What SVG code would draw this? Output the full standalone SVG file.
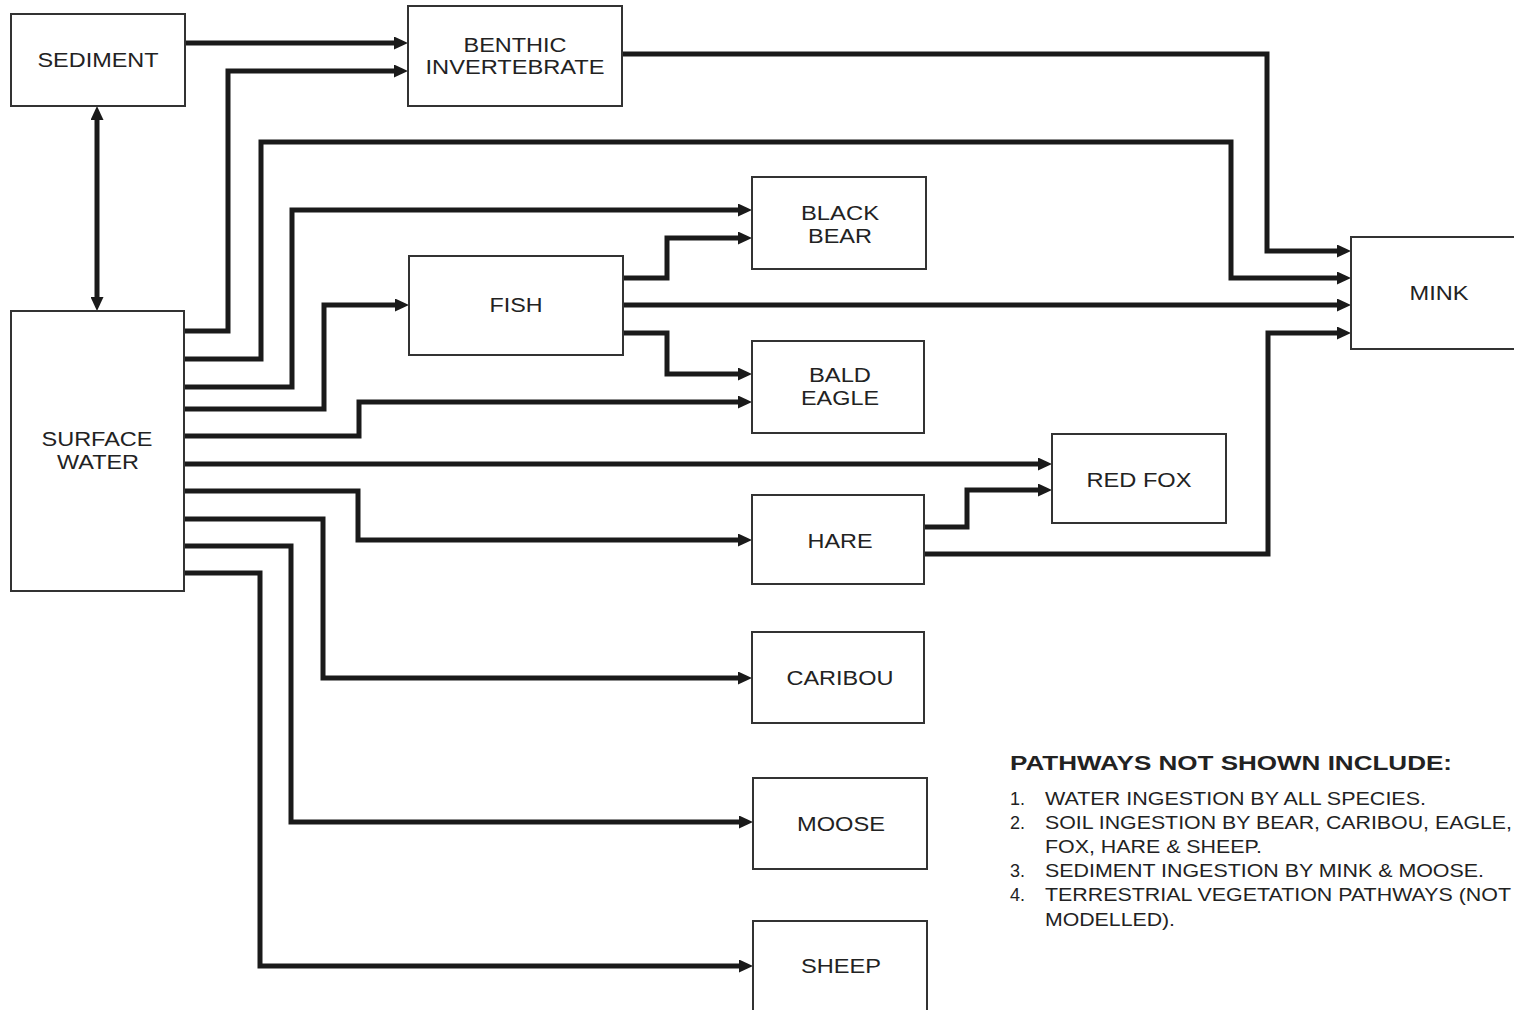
<svg xmlns="http://www.w3.org/2000/svg" width="1514" height="1010" viewBox="0 0 1514 1010">
<style>
.box{fill:#fff;stroke:#333;stroke-width:2}
.lbl{font-family:"Liberation Sans",Arial,sans-serif;font-size:20px;fill:#222;text-anchor:middle}
.con{fill:none;stroke:#1a1a1a;stroke-width:5;stroke-linejoin:miter}
.note{font-family:"Liberation Sans",Arial,sans-serif;font-size:18px;fill:#222}
.title{font-family:"Liberation Sans",Arial,sans-serif;font-size:21px;font-weight:bold;fill:#222}
</style>
<defs>
<marker id="ah" markerUnits="userSpaceOnUse" markerWidth="14" markerHeight="13" refX="1" refY="6.5" orient="auto-start-reverse">
<path d="M0,0 L14,6.5 L0,13 z" fill="#1a1a1a"/>
</marker>
</defs>
<rect width="1514" height="1010" fill="#fff"/>
<g id="connectors">
<path class="con" marker-end="url(#ah)" d="M185,43 H395"/>
<path class="con" marker-end="url(#ah)" d="M184,331 H228 V71 H395"/>
<path class="con" marker-end="url(#ah)" d="M184,359 H261 V142 H1231 V278 H1338"/>
<path class="con" marker-end="url(#ah)" d="M184,387 H292 V210 H739"/>
<path class="con" marker-end="url(#ah)" d="M184,409 H324 V305 H396"/>
<path class="con" marker-end="url(#ah)" d="M184,436 H359 V402 H739"/>
<path class="con" marker-end="url(#ah)" d="M184,464 H1039"/>
<path class="con" marker-end="url(#ah)" d="M184,491 H358 V540 H739"/>
<path class="con" marker-end="url(#ah)" d="M184,519 H323 V678 H739"/>
<path class="con" marker-end="url(#ah)" d="M184,546 H291 V822 H740"/>
<path class="con" marker-end="url(#ah)" d="M184,573 H260 V966 H740"/>
<path class="con" marker-end="url(#ah)" d="M622,54 H1267 V251 H1338"/>
<path class="con" marker-end="url(#ah)" d="M623,278 H667 V238 H739"/>
<path class="con" marker-end="url(#ah)" d="M623,305 H1338"/>
<path class="con" marker-end="url(#ah)" d="M623,333 H667 V374 H739"/>
<path class="con" marker-end="url(#ah)" d="M924,527 H967 V490 H1039"/>
<path class="con" marker-end="url(#ah)" d="M924,554 H1268 V333 H1338"/>
<path class="con" marker-start="url(#ah)" marker-end="url(#ah)" d="M97,119 V298"/>
</g>
<g id="sediment"><rect class="box" x="11" y="14" width="174" height="92"/><text class="lbl" x="98" y="67" textLength="121" lengthAdjust="spacingAndGlyphs">SEDIMENT</text></g>
<g id="benthic"><rect class="box" x="408" y="6" width="214" height="100"/><text class="lbl" x="515" y="52" textLength="103" lengthAdjust="spacingAndGlyphs">BENTHIC</text><text class="lbl" x="515" y="74" textLength="179" lengthAdjust="spacingAndGlyphs">INVERTEBRATE</text></g>
<g id="surface-water"><rect class="box" x="11" y="311" width="173" height="280"/><text class="lbl" x="97" y="446" textLength="111" lengthAdjust="spacingAndGlyphs">SURFACE</text><text class="lbl" x="98" y="469" textLength="82" lengthAdjust="spacingAndGlyphs">WATER</text></g>
<g id="fish"><rect class="box" x="409" y="256" width="214" height="99"/><text class="lbl" x="516" y="312" textLength="53" lengthAdjust="spacingAndGlyphs">FISH</text></g>
<g id="black-bear"><rect class="box" x="752" y="177" width="174" height="92"/><text class="lbl" x="840" y="220" textLength="78" lengthAdjust="spacingAndGlyphs">BLACK</text><text class="lbl" x="840" y="243" textLength="64" lengthAdjust="spacingAndGlyphs">BEAR</text></g>
<g id="bald-eagle"><rect class="box" x="752" y="341" width="172" height="92"/><text class="lbl" x="840" y="382" textLength="62" lengthAdjust="spacingAndGlyphs">BALD</text><text class="lbl" x="840" y="405" textLength="78" lengthAdjust="spacingAndGlyphs">EAGLE</text></g>
<g id="mink"><rect class="box" x="1351" y="237" width="170" height="112"/><text class="lbl" x="1439" y="300" textLength="59" lengthAdjust="spacingAndGlyphs">MINK</text></g>
<g id="red-fox"><rect class="box" x="1052" y="434" width="174" height="89"/><text class="lbl" x="1139" y="487" textLength="105" lengthAdjust="spacingAndGlyphs">RED FOX</text></g>
<g id="hare"><rect class="box" x="752" y="495" width="172" height="89"/><text class="lbl" x="840" y="548" textLength="65" lengthAdjust="spacingAndGlyphs">HARE</text></g>
<g id="caribou"><rect class="box" x="752" y="632" width="172" height="91"/><text class="lbl" x="840" y="685" textLength="107" lengthAdjust="spacingAndGlyphs">CARIBOU</text></g>
<g id="moose"><rect class="box" x="753" y="778" width="174" height="91"/><text class="lbl" x="841" y="831" textLength="88" lengthAdjust="spacingAndGlyphs">MOOSE</text></g>
<g id="sheep"><rect class="box" x="753" y="921" width="174" height="100"/><text class="lbl" x="841" y="973" textLength="80" lengthAdjust="spacingAndGlyphs">SHEEP</text></g>
<g id="notes">
<text class="title" x="1010" y="770" textLength="442" lengthAdjust="spacingAndGlyphs">PATHWAYS NOT SHOWN INCLUDE:</text>
<text class="note" x="1010" y="805">1.</text><text class="note" x="1045" y="805" textLength="381" lengthAdjust="spacingAndGlyphs">WATER INGESTION BY ALL SPECIES.</text>
<text class="note" x="1010" y="829">2.</text><text class="note" x="1045" y="829" textLength="467" lengthAdjust="spacingAndGlyphs">SOIL INGESTION BY BEAR, CARIBOU, EAGLE,</text>
<text class="note" x="1045" y="853" textLength="217" lengthAdjust="spacingAndGlyphs">FOX, HARE &amp; SHEEP.</text>
<text class="note" x="1010" y="877">3.</text><text class="note" x="1045" y="877" textLength="439" lengthAdjust="spacingAndGlyphs">SEDIMENT INGESTION BY MINK &amp; MOOSE.</text>
<text class="note" x="1010" y="901">4.</text><text class="note" x="1045" y="901" textLength="466" lengthAdjust="spacingAndGlyphs">TERRESTRIAL VEGETATION PATHWAYS (NOT</text>
<text class="note" x="1045" y="926" textLength="130" lengthAdjust="spacingAndGlyphs">MODELLED).</text>
</g>
</svg>
